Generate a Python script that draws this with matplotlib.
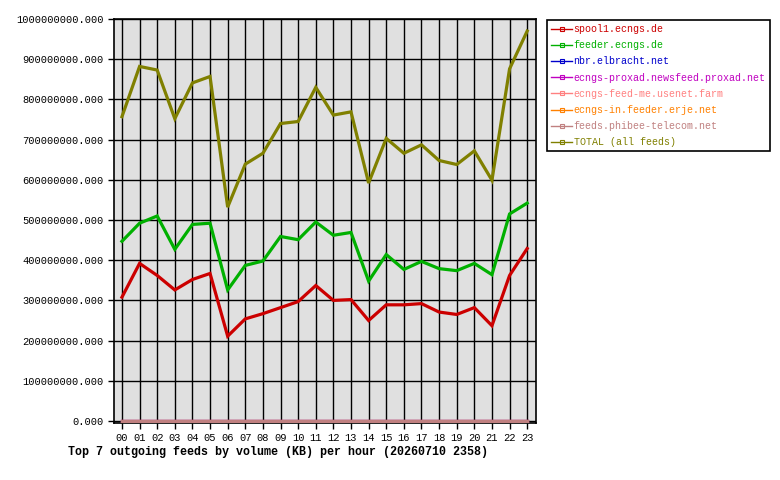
import numpy as np
import matplotlib
matplotlib.use("Agg")
import matplotlib.pyplot as plt
from matplotlib.lines import Line2D
from matplotlib.ticker import FuncFormatter

# hourly outgoing volume (KB)
hours = ["%02d" % h for h in range(24)]
spool1 = [308e6, 392e6, 362e6, 326e6, 352e6, 367e6, 211e6, 254e6, 267e6, 282e6, 297e6, 337e6,
          300e6, 302e6, 250e6, 289e6, 289e6, 292e6, 271e6, 265e6, 282e6, 237e6, 362e6, 429e6]
feeder = [447e6, 492e6, 510e6, 427e6, 489e6, 492e6, 326e6, 387e6, 398e6, 459e6, 451e6, 495e6,
          462e6, 469e6, 348e6, 414e6, 377e6, 397e6, 379e6, 374e6, 392e6, 364e6, 515e6, 542e6]
nbr = [0] * 24
proxad = [0] * 24
feedme = [0] * 24
erje = [0] * 24
phibee = [0] * 24
total = [757e6, 882e6, 873e6, 752e6, 841e6, 857e6, 532e6, 639e6, 666e6, 740e6, 745e6, 830e6,
         761e6, 769e6, 592e6, 703e6, 666e6, 687e6, 648e6, 638e6, 672e6, 599e6, 876e6, 970e6]

names = ["spool1.ecngs.de", "feeder.ecngs.de", "nbr.elbracht.net",
         "ecngs-proxad.newsfeed.proxad.net", "ecngs-feed-me.usenet.farm",
         "ecngs-in.feeder.erje.net", "feeds.phibee-telecom.net", "TOTAL (all feeds)"]
series = [spool1, feeder, nbr, proxad, feedme, erje, phibee, total]
colors = ["#cc0000", "#00b000", "#0000cc", "#c000c0", "#ff8080", "#ff8000", "#c08080", "#808000"]

plt.rcParams['font.family'] = ['Liberation Mono', 'DejaVu Sans Mono']

fig = plt.figure(figsize=(7.8, 4.8), dpi=100)
ax = fig.add_axes([113.5 / 780, 1 - 423 / 480, (536 - 113.5) / 780, (423 - 19) / 480])
ax.set_facecolor("#e0e0e0")

x = np.arange(len(hours))
# totals first so the per-feed lines sit on top, as in the original
order = [7, 0, 1, 2, 3, 4, 5, 6]
for i in order:
    ax.plot(x, series[i], color=colors[i], lw=2.3, solid_joinstyle="miter", zorder=3)

ax.set_xlim(-0.48, 23.5)
ax.set_ylim(-5e6, 1e9)
ax.set_xticks(x)
ax.set_xticklabels(hours)
ax.set_yticks(np.arange(0, 1.01e9, 1e8))
ax.yaxis.set_major_formatter(FuncFormatter(lambda v, p: "%.3f" % v))
ax.grid(True, color="black", lw=1.0, zorder=1)
ax.set_axisbelow(True)
ax.tick_params(labelsize=7.5, length=4, width=1, color="black", pad=3)
for s in ax.spines.values():
    s.set_linewidth(1.2)

handles = [Line2D([0], [0], color=c, lw=1.0, marker="s", markersize=3,
                  markerfacecolor="none", markeredgewidth=0.8) for c in colors]
leg = fig.legend(handles, names, loc="upper left", bbox_to_anchor=(547 / 780, 1 - 20 / 480),
                 fontsize=7.2, frameon=True, fancybox=False, framealpha=1,
                 edgecolor="black", handlelength=2.1, handletextpad=0.15,
                 labelspacing=0.62, borderpad=0.4, borderaxespad=0)
leg.get_frame().set_linewidth(1.2)
for t, c in zip(leg.get_texts(), colors):
    t.set_color(c)

fig.text(68 / 780, 1 - 452 / 480, "Top 7 outgoing feeds by volume (KB) per hour (20260710 2358)",
         fontsize=8.4, fontweight="bold", ha="left", va="center")

fig.savefig("out.png", dpi=100)
